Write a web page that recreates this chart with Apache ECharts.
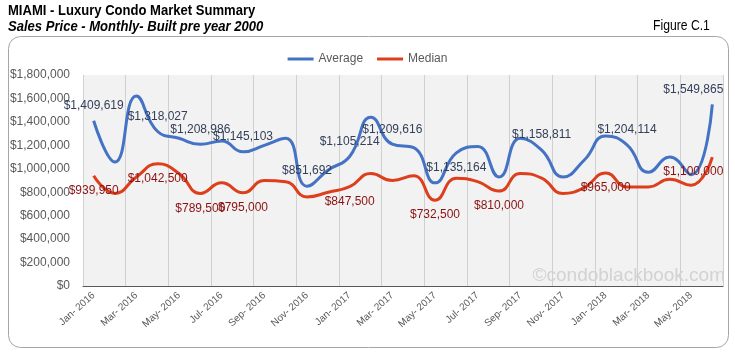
<!DOCTYPE html>
<html lang="en">

<head>
  <meta charset="UTF-8" />
  <title>Miami Luxury Condo Sales Price</title>
  <script src="https://cdn.jsdelivr.net/npm/echarts@6/dist/echarts.min.js"></script>
</head>

<body style="margin:0;overflow:hidden;background:#fff;">
  <div id="panel" style="width:735px;height:359px;"></div>
  <script>
    var months = ['Jan- 2016', 'Feb- 2016', 'Mar- 2016', 'Apr- 2016', 'May- 2016', 'Jun- 2016',
      'Jul- 2016', 'Aug- 2016', 'Sep- 2016', 'Oct- 2016', 'Nov- 2016', 'Dec- 2016',
      'Jan- 2017', 'Feb- 2017', 'Mar- 2017', 'Apr- 2017', 'May- 2017', 'Jun- 2017',
      'Jul- 2017', 'Aug- 2017', 'Sep- 2017', 'Oct- 2017', 'Nov- 2017', 'Dec- 2017',
      'Jan- 2018', 'Feb- 2018', 'Mar- 2018', 'Apr- 2018', 'May- 2018', 'Jun- 2018'];
    var average = [1409619, 1058000, 1620000, 1318027, 1260000, 1208986, 1237000, 1145103, 1200000, 1260000,
      851692, 990000, 1105214, 1440000, 1209616, 1180000, 880000, 1135164, 1190000, 930000,
      1260000, 1158811, 930000, 1075000, 1280000, 1204114, 970000, 1100000, 950000, 1549865];
    var median = [939950, 790000, 930000, 1042500, 960000, 789500, 880000, 795000, 900000, 890000,
      760000, 800000, 847500, 960000, 900000, 940000, 732500, 920000, 890000, 810000,
      960000, 920000, 790000, 840000, 965000, 845000, 845000, 910000, 860000, 1100000];
    // which points carry a data label
    var avgLabelIdx = [0, 3, 5, 7, 10, 12, 14, 17, 21, 25, 29];
    var medLabelIdx = [0, 3, 5, 7, 12, 16, 19, 24, 29];

    var font = 'Liberation Sans, Arial, sans-serif';
    function money(v) {
      return '$' + Math.round(v).toString().replace(/\B(?=(\d{3})+(?!\d))/g, ',');
    }

    function withLabels(values, idx, pos, color) {
      return values.map(function (v, i) {
        if (idx.indexOf(i) < 0) return v;
        var p = pos;
        if (pos === 'top' && i === 17) p = 'bottom';
        return {
          value: v,
          label: {
            show: true,
            position: p,
            distance: 9,
            offset: i === values.length - 1 ? [-19, 0] : [0, 0],
            color: color,
            fontSize: 12,
            fontFamily: font,
            formatter: function (o) { return money(o.value); }
          }
        };
      });
    }

    var myChart = echarts.init(document.getElementById('panel'));

    var narrow = { scaleX: 0.87, originX: 0, originY: 0 };

    var option = {
      animation: false,
      textStyle: { fontFamily: font },
      graphic: [
        {
          type: 'rect', left: 8, top: 36, z: -10,
          shape: { width: 720, height: 311, r: 12 },
          style: { fill: '#fff', stroke: '#a6a6a6', lineWidth: 1 }
        },
        Object.assign({
          type: 'text', x: 8, y: 3,
          style: {
            text: 'MIAMI - Luxury Condo Market Summary', fill: '#000',
            font: 'bold 15px "Liberation Sans", Arial, sans-serif'
          }
        }, narrow),
        Object.assign({
          type: 'text', x: 8, y: 19,
          style: {
            text: 'Sales Price - Monthly- Built pre year 2000', fill: '#000',
            font: 'italic bold 15px "Liberation Sans", Arial, sans-serif'
          }
        }, narrow),
        Object.assign({
          type: 'text', x: 653, y: 19,
          style: {
            text: 'Figure C.1', fill: '#000',
            font: '14px "Liberation Sans", Arial, sans-serif'
          }
        }, narrow),
        {
          type: 'text', right: 10, top: 266, z: 5,
          style: {
            text: '\u00a9condoblackbook.com', fill: '#d2d2d2',
            font: '19px "Liberation Sans", sans-serif'
          }
        }
      ],
      legend: {
        top: 48,
        left: 'center',
        itemWidth: 26,
        itemHeight: 3,
        itemGap: 14,
        icon: 'rect',
        textStyle: { color: '#595959', fontSize: 12, fontFamily: font },
        data: ['Average', 'Median']
      },
      grid: {
        left: 83, right: 12, top: 75, bottom: 73,
        show: true, backgroundColor: '#f2f2f2', borderWidth: 0
      },
      xAxis: {
        type: 'category',
        data: months,
        boundaryGap: true,
        axisLine: { lineStyle: { color: '#595959', width: 1 } },
        axisTick: { interval: 1, length: 5, lineStyle: { color: '#595959' } },
        axisLabel: {
          interval: 1, rotate: 42, color: '#595959', fontSize: 10, margin: 8,
          fontFamily: font
        },
        splitLine: { show: true, interval: 1, lineStyle: { color: '#d0d0d0', width: 1 } }
      },
      yAxis: {
        type: 'value',
        min: 0, max: 1800000, interval: 200000,
        axisLine: { show: false },
        axisTick: { show: false },
        splitLine: { show: false },
        axisLabel: {
          color: '#595959', fontSize: 12, margin: 13, fontFamily: font,
          formatter: money
        }
      },
      series: [
        {
          name: 'Average',
          type: 'line',
          smooth: 0.5,
          symbol: 'circle',
          symbolSize: 0,
          showAllSymbol: true,
          color: '#4472c4',
          lineStyle: { width: 3, color: '#4472c4' },
          data: withLabels(average, avgLabelIdx, 'top', '#34405a')
        },
        {
          name: 'Median',
          type: 'line',
          smooth: 0.5,
          symbol: 'circle',
          symbolSize: 0,
          showAllSymbol: true,
          color: '#dd3f1c',
          lineStyle: { width: 3, color: '#dd3f1c' },
          data: withLabels(median, medLabelIdx, 'bottom', '#8b1111')
        }
      ]
    };

    myChart.setOption(option);
  </script>
</body>

</html>
